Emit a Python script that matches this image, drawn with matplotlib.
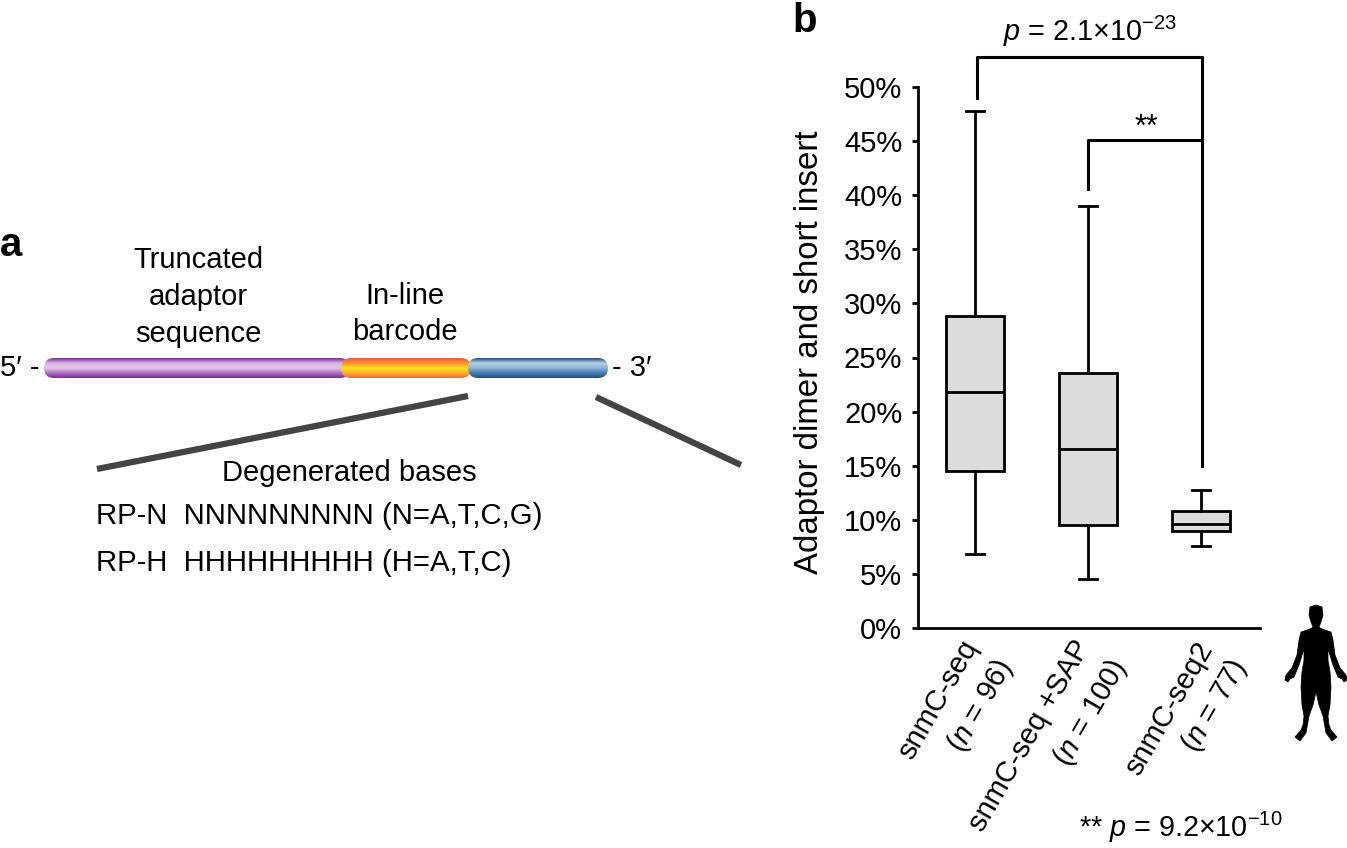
import numpy as np
import matplotlib
matplotlib.use("Agg")
import matplotlib.pyplot as plt
from matplotlib.colors import LinearSegmentedColormap
from matplotlib.patches import FancyBboxPatch, Polygon

W, H = 1347, 848

# box plot values (percent)
methods = ["snmC-seq", "snmC-seq +SAP", "snmC-seq2"]
counts = ["96", "100", "77"]
whisker_low = [6.8, 4.5, 7.6]
q1 = [14.5, 9.5, 9.0]
median = [21.8, 16.5, 9.6]
q3 = [28.8, 23.6, 10.8]
whisker_high = [47.8, 39.0, 12.8]
y_ticks = [0, 5, 10, 15, 20, 25, 30, 35, 40, 45, 50]

plt.rcParams["font.family"] = ["Liberation Sans", "DejaVu Sans"]
plt.rcParams["mathtext.fontset"] = "custom"
plt.rcParams["mathtext.rm"] = "Liberation Sans"
plt.rcParams["mathtext.it"] = "Liberation Sans:italic"
plt.rcParams["mathtext.default"] = "regular"

fig = plt.figure(figsize=(W / 100, H / 100), dpi=100)

# pixel canvas for panel a and the labels
bg = fig.add_axes([0, 0, 1, 1])
bg.set_xlim(0, W)
bg.set_ylim(H, 0)
bg.axis("off")

# -----------------------------
# Panel b: box plot
# -----------------------------
ax = fig.add_axes([918 / W, 1 - 628 / H, (1260 - 918) / W, (628 - 87) / H])
stats = []
for i, m in enumerate(methods):
    stats.append({"label": m, "whislo": whisker_low[i], "q1": q1[i], "med": median[i],
                  "q3": q3[i], "whishi": whisker_high[i], "fliers": []})
line = dict(color="black", linewidth=2.0)
ax.bxp(stats, positions=[0, 1, 2], widths=[0.51, 0.51, 0.51], patch_artist=True,
       boxprops=dict(facecolor="#dcdcdc", edgecolor="black", linewidth=2.0),
       medianprops=line, whiskerprops=line,
       capprops=line, capwidths=[0.16, 0.16, 0.16], showfliers=False)
ax.set_xlim(-0.5, 2.52)
ax.set_ylim(0, 50)
ax.set_yticks(y_ticks)
ax.set_yticklabels([f"{v}%" for v in y_ticks], fontsize=21)
ax.set_xticks([])
ax.tick_params(axis="y", length=4.3, width=2.0, pad=7)
ax.set_ylabel("Adaptor dimer and short insert", fontsize=23.8)
ax.yaxis.set_label_coords(-0.272, 0.51)
ax.patch.set_alpha(0)
for side in ["top", "right"]:
    ax.spines[side].set_visible(False)
for side in ["left", "bottom"]:
    ax.spines[side].set_linewidth(2.0)

# significance brackets
ax.plot([0.02, 0.02, 2.01, 2.01], [49.0, 52.8, 52.8, 15.0], color="black", lw=2.2, clip_on=False)
ax.plot([1, 1, 2.01], [40.6, 45.1, 45.1], color="black", lw=2.2, clip_on=False)

bg.text(792, 2, "b", fontsize=29, fontweight="bold", va="top")
bg.text(1003, 31, r"$\mathit{p}$ = 2.1×10$^{-23}$", fontsize=20.7, va="center")
bg.text(1146, 128, "**", fontsize=22, ha="center", va="center")
bg.text(1079, 827, r"** $\mathit{p}$ = 9.2×10$^{-10}$", fontsize=20.7, va="center")

# rotated x labels, two lines each
for x, y, txt in [(971, 642, methods[0]), (1084, 642, methods[1]), (1206, 644, methods[2])]:
    bg.text(x, y, txt, fontsize=21, rotation=60, rotation_mode="anchor", ha="right", va="center")
for x, y, n in [(1006, 662, counts[0]), (1120, 662, counts[1]), (1240, 662, counts[2])]:
    bg.text(x, y, rf"($\mathit{{n}}$ = {n})", fontsize=21, rotation=60, rotation_mode="anchor",
            ha="right", va="center")

# human silhouette, right half mirrored about the body centre
half = [(1316, 605), (1322, 607), (1323, 615), (1321, 622), (1319, 627), (1322, 629), (1331, 632),
        (1333, 640), (1335, 655), (1340, 668), (1346, 675), (1347, 680), (1344, 682), (1342, 679),
        (1338, 677), (1333, 665), (1329, 652), (1328, 648), (1328, 660), (1330, 672), (1331, 687),
        (1330, 705), (1328, 716), (1329, 725), (1331, 730), (1337, 737), (1332, 741), (1326, 733),
        (1323, 716), (1319, 705), (1316, 692)]
body = half + [(2 * 1316 - x, y) for x, y in reversed(half[1:-1])]
bg.add_patch(Polygon(body, closed=True, facecolor="black", edgecolor="black", lw=0.5))

# -----------------------------
# Panel a: adaptor schematic
# -----------------------------
def tube(x0, x1, y0, y1, colors, z):
    cmap = LinearSegmentedColormap.from_list("tube", colors)
    grad = np.linspace(0, 1, 64).reshape(-1, 1)
    im = bg.imshow(grad, extent=[x0, x1, y1, y0], cmap=cmap, aspect="auto", zorder=z)
    r = (y1 - y0) / 2
    clip = FancyBboxPatch((x0 + r, y0 + r), x1 - x0 - 2 * r, 0, boxstyle=f"round,pad={r},rounding_size={r}",
                          transform=bg.transData, facecolor="none", edgecolor="none")
    bg.add_patch(clip)
    im.set_clip_path(clip)

tube(44, 350, 358, 378, ["#7b2d96", "#dcb4e4", "#e4c4ea", "#b070c4", "#7b2d96"], 2)
tube(341, 471, 358, 378, ["#ef5a40", "#f8902c", "#ffe21c", "#fbb02a", "#f4683c"], 3)
tube(468, 608, 358, 378, ["#1d4f80", "#b4d2e6", "#8cb4d8", "#4a7cae", "#1d4f80"], 4)
bg.set_xlim(0, W)
bg.set_ylim(H, 0)

bg.text(0, 368, "5′ -", fontsize=21, va="center")
bg.text(612, 368, "- 3′", fontsize=21, va="center")
bg.text(0, 245, "a", fontsize=29, fontweight="bold", va="center")
bg.text(198, 297, "Truncated\nadaptor\nsequence", fontsize=21, ha="center", va="center", linespacing=1.39)
bg.text(405, 314, "In-line\nbarcode", fontsize=21, ha="center", va="center", linespacing=1.39)
bg.plot([97, 468], [469, 396], color="#444444", lw=4.5, solid_capstyle="butt")
bg.plot([596, 741], [397, 465], color="#444444", lw=4.5, solid_capstyle="butt")
bg.text(349, 473, "Degenerated bases", fontsize=21, ha="center", va="center")
bg.text(96, 516, "RP-N  NNNNNNNNN (N=A,T,C,G)", fontsize=21.2, va="center")
bg.text(96, 563, "RP-H  HHHHHHHHH (H=A,T,C)", fontsize=21.2, va="center")

fig.savefig("out.png", dpi=100)
